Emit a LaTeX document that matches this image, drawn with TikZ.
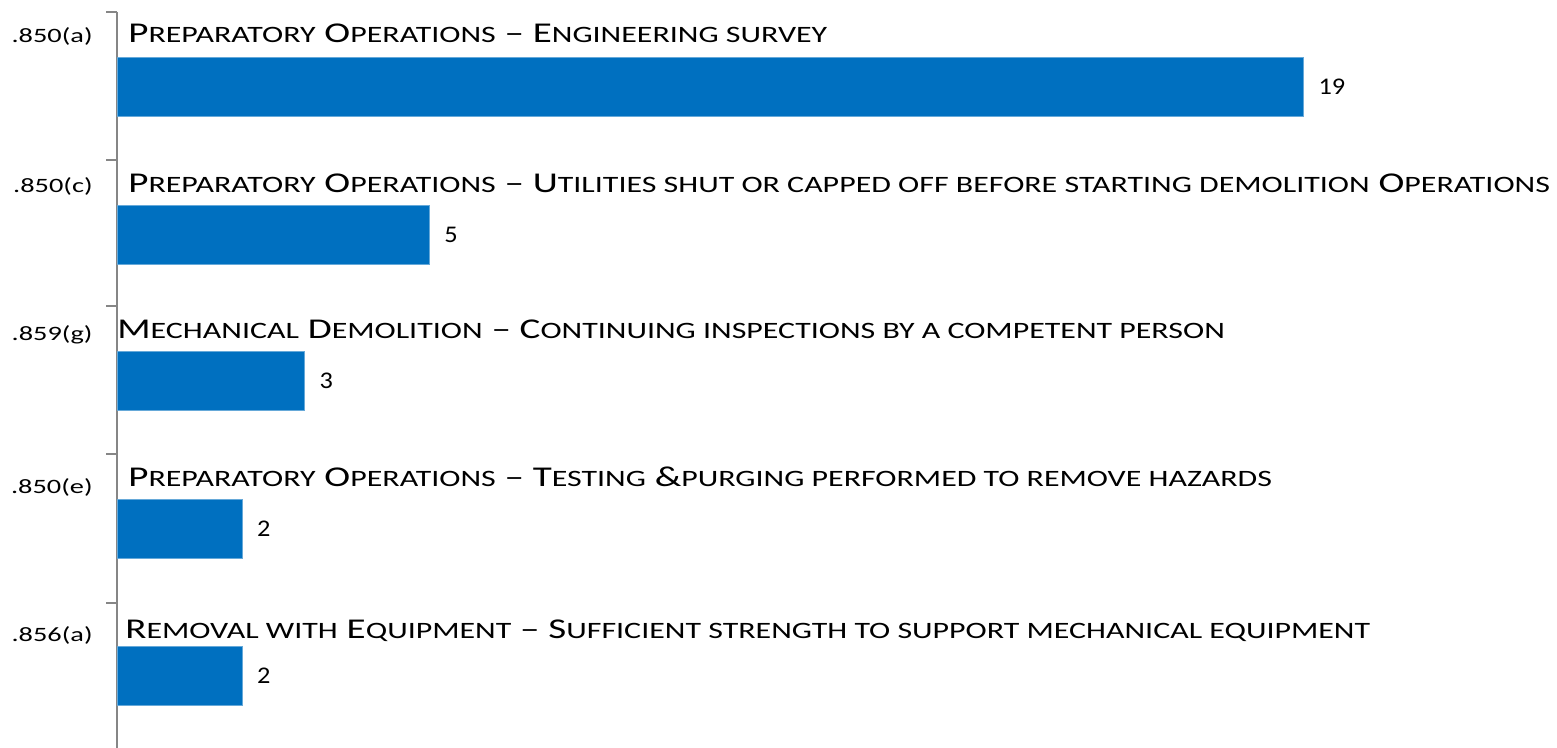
\documentclass[tikz,border=0pt]{standalone}
\usepackage{fontspec}
\setmainfont{Carlito}
\usetikzlibrary{positioning}
\definecolor{barblue}{RGB}{0, 112, 192}
\definecolor{axisgray}{RGB}{134, 134, 134}
% small capitals drawn by hand (Carlito has none)
\newcommand{\sm}[1]{{\fontsize{16.7}{20}\selectfont\MakeUppercase{#1}}}

\begin{document}
\begin{tikzpicture}[x=0.025cm, y=-0.025cm,
    bar/.style={fill=barblue, draw=barblue!60, line width=0.4pt, anchor=north west, inner sep=0pt, outer sep=0pt, minimum height=1.475cm},
    title/.style={anchor=base west, inner sep=0pt, xscale=1.36, font=\fontsize{20.4}{24}\selectfont},
    code/.style={anchor=base east, inner sep=0pt, xscale=1.39, font=\fontsize{14.5}{16}\selectfont},
    count/.style={inner sep=0pt, xscale=1.1, font=\fontsize{17}{20}\selectfont}]
    \useasboundingbox (0,0) rectangle (1557,748);

    % Axis
    \draw[axisgray, line width=1pt] (117,12) -- (117,748);
    \foreach \y in {12,160,306,454,603}
        \draw[axisgray, line width=1pt] (106,\y) -- (117,\y);

    % Engineering survey
    \node[code] (codeA) at (93,43) {.850(a)};
    \node[title] (titleA) at (128,43) {P\sm{reparatory} O\sm{perations} -- E\sm{ngineering survey}};
    \node[bar, minimum width=19*1.5605cm] (barA) at (117,57) {};
    \node[count, right=0.375cm of barA] (countA) {19};

    % Utilities shut or capped off
    \node[code] (codeC) at (93,193) {.850(c)};
    \node[title] (titleC) at (128,192) {P\sm{reparatory} O\sm{perations} -- U\sm{tilities shut or capped off before starting demolition} O\sm{perations}};
    \node[bar, minimum width=5*1.5605cm] (barC) at (117,205) {};
    \node[count, right=0.375cm of barC] (countC) {5};

    % Continuing inspections
    \node[code] (codeG) at (93,340) {.859(g)};
    \node[title] (titleG) at (117,338) {M\sm{echanical} D\sm{emolition} -- C\sm{ontinuing inspections by a competent person}};
    \node[bar, minimum width=3*1.5605cm] (barG) at (117,351) {};
    \node[count, right=0.375cm of barG] (countG) {3};

    % Testing and purging
    \node[code] (codeE) at (93,493) {.850(e)};
    \node[title] (titleE) at (128,486) {P\sm{reparatory} O\sm{perations} -- T\sm{esting} \&\sm{purging performed to remove hazards}};
    \node[bar, minimum width=2*1.5605cm] (barE) at (117,499) {};
    \node[count, right=0.375cm of barE] (countE) {2};

    % Sufficient strength
    \node[code] (codeR) at (93,641) {.856(a)};
    \node[title] (titleR) at (125,638) {R\sm{emoval with} E\sm{quipment} -- S\sm{ufficient strength to support mechanical equipment}};
    \node[bar, minimum width=2*1.5605cm] (barR) at (117,646) {};
    \node[count, right=0.375cm of barR] (countR) {2};
\end{tikzpicture}
\end{document}
